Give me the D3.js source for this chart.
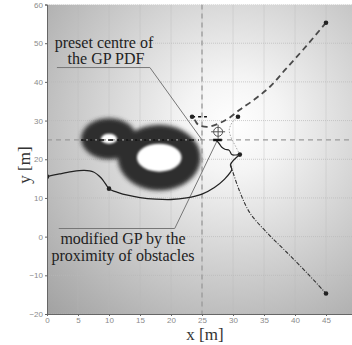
<!DOCTYPE html>
<html>
<head>
<meta charset="utf-8">
<script src="https://cdn.jsdelivr.net/npm/d3@7"></script>
<style>
    body { margin: 0; background: #fff; }
    .tick text { font-family: "Liberation Sans", Arial, sans-serif; font-size: 8px; fill: #8a8a8a; }
    .axis path, .axis line { stroke: #666; }
    .note { font-family: "Liberation Serif", "Times New Roman", serif; font-size: 16px; fill: #222; }
    .alabel { font-family: "Liberation Serif", "Times New Roman", serif; font-size: 17px; fill: #333; }
</style>
</head>
<body>
<script>
// tick values
var xTicks = [0, 5, 10, 15, 20, 25, 30, 35, 40, 45, 50];
var yTicks = [-20, -10, 0, 10, 20, 30, 40, 50, 60];

// obstacles: centre, core radius and proximity zone radii (data units)
var obsX = [10, 18.1],
    obsY = [25.3, 20.4],
    obsCore = [1.3, 3.6],
    obsZoneX = [4.5, 6.7],
    obsZoneY = [5.3, 8.5];

// preset GP centre and modified GP centre
var presetCentre = [25, 25];
var modifiedCentre = [27.6, 27.1];

// trajectories
var robotPath = [[0, 15.5], [2, 16.2], [4, 16.8], [6, 17.1], [7.5, 16.7],
    [8.7, 15.2], [9.5, 13.5], [10, 12.4], [11.5, 11.4], [13, 10.7],
    [15, 10.1], [17.5, 9.7], [20, 9.6], [22.5, 10], [25, 11],
    [27, 12.7], [28.6, 14.8], [29.8, 17.3], [29.6, 18.6], [31.1, 21.2]];
var robotDots = [[0, 15.5], [10, 12.4], [31.1, 21.2]];

var gpPath = [[45, 55.3], [41.3, 48.3], [38.5, 43.3], [36, 38.8], [33.5, 35.5],
    [31.1, 32.8], [29.3, 30.6], [27.9, 29.4], [26, 28.4], [24.4, 28.9],
    [23.9, 30], [23.7, 30.5]];
var gpDot = [45, 55.3];

var shortPath = [[23.4, 31], [25.8, 31]];
var shortDot = [23.4, 31];

var wigglePath = [[27.2, 25], [27.7, 24.2], [28.2, 23.1], [28.7, 22.6],
    [29.4, 22.3], [29.8, 21.2], [30.4, 21.1], [31.1, 21.2]];

var dottedPath = [[30.8, 31], [29.9, 29.6], [29.4, 27.6], [29.7, 25.6],
    [30.4, 23.4], [31.1, 21.2]];
var dottedDot = [30.8, 31];

var escapePath = [[29.6, 18.6], [31, 12], [32.7, 6.2], [35.5, 1],
    [38.7, -4.1], [42, -9.5], [45, -14.7]];
var escapeDot = [45, -14.7];

// annotation leader lines
var leader1 = [[1.6, 43.7], [16.6, 43.7], [25, 25]];
var leader2 = [[1.9, 2.1], [20.6, 2.1], [27.5, 25]];

var width = 352, height = 345;

var x = d3.scaleLinear().domain([0, 50]).range([47, 357]),
    y = d3.scaleLinear().domain([-20, 60]).range([314, 4.5]);

var svg = d3.select("body").append("svg")
    .attr("width", width)
    .attr("height", height);

var defs = svg.append("defs");

// background glow round the GP centre
var grad = defs.append("radialGradient")
    .attr("id", "bg")
    .attr("gradientUnits", "userSpaceOnUse")
    .attr("cx", x(30)).attr("cy", y(29))
    .attr("r", 275);
grad.append("stop").attr("offset", "0").attr("stop-color", "#ffffff");
grad.append("stop").attr("offset", "0.18").attr("stop-color", "#f4f4f4");
grad.append("stop").attr("offset", "0.5").attr("stop-color", "#d2d2d2");
grad.append("stop").attr("offset", "0.8").attr("stop-color", "#b2b2b2");
grad.append("stop").attr("offset", "1").attr("stop-color", "#9e9e9e");

defs.append("filter").attr("id", "blur")
    .attr("x", "-50%").attr("y", "-50%").attr("width", "200%").attr("height", "200%")
    .append("feGaussianBlur").attr("stdDeviation", 2.2);
defs.append("filter").attr("id", "blur2")
    .append("feGaussianBlur").attr("stdDeviation", 1);

defs.append("clipPath").attr("id", "clip")
    .append("rect")
    .attr("x", x(0)).attr("y", y(60))
    .attr("width", x(50) - x(0)).attr("height", y(-20) - y(60));

var plot = svg.append("g").attr("clip-path", "url(#clip)");

plot.append("rect")
    .attr("x", x(0)).attr("y", y(60))
    .attr("width", x(50) - x(0)).attr("height", y(-20) - y(60))
    .attr("fill", "url(#bg)");

// grid
plot.selectAll(".gx").data(xTicks).enter().append("line")
    .attr("x1", d => x(d)).attr("x2", d => x(d))
    .attr("y1", y(60)).attr("y2", y(-20))
    .attr("stroke", "#b8b8b8").attr("stroke-width", 0.7)
    .attr("stroke-dasharray", "1,1");
plot.selectAll(".gy").data(yTicks).enter().append("line")
    .attr("y1", d => y(d)).attr("y2", d => y(d))
    .attr("x1", x(0)).attr("x2", x(50))
    .attr("stroke", "#b8b8b8").attr("stroke-width", 0.7)
    .attr("stroke-dasharray", "1,1");

// obstacles: dark proximity zone then white core
var zones = plot.append("g").attr("filter", "url(#blur)");
obsX.forEach(function(ox, i) {
    zones.append("ellipse")
        .attr("cx", x(ox)).attr("cy", y(obsY[i]))
        .attr("rx", x(obsZoneX[i]) - x(0)).attr("ry", y(0) - y(obsZoneY[i]))
        .attr("fill", "#2e2e2e");
});
var cores = plot.append("g").attr("filter", "url(#blur2)");
obsX.forEach(function(ox, i) {
    cores.append("ellipse")
        .attr("cx", x(ox)).attr("cy", y(obsY[i]))
        .attr("rx", x(obsCore[i]) - x(0)).attr("ry", y(0) - y(obsCore[i]))
        .attr("fill", "#ffffff");
});

// preset centre dashed cross
plot.append("line")
    .attr("x1", x(0)).attr("x2", x(50))
    .attr("y1", y(presetCentre[1])).attr("y2", y(presetCentre[1]))
    .attr("stroke", "#9a9a9a").attr("stroke-width", 1.3)
    .attr("stroke-dasharray", "5,4");
plot.append("line")
    .attr("x1", x(5.5)).attr("x2", x(24.5))
    .attr("y1", y(presetCentre[1])).attr("y2", y(presetCentre[1]))
    .attr("stroke", "#111").attr("stroke-width", 1.5)
    .attr("stroke-dasharray", "5,4");
plot.append("line")
    .attr("x1", x(presetCentre[0])).attr("x2", x(presetCentre[0]))
    .attr("y1", y(60)).attr("y2", y(-20))
    .attr("stroke", "#9a9a9a").attr("stroke-width", 1.3)
    .attr("stroke-dasharray", "5,4");

var line = d3.line().x(d => x(d[0])).y(d => y(d[1])).curve(d3.curveCatmullRom);

// leader lines of the notes
[leader1, leader2].forEach(function(pts) {
    plot.append("path")
        .attr("d", d3.line().x(d => x(d[0])).y(d => y(d[1]))(pts))
        .attr("fill", "none").attr("stroke", "#777").attr("stroke-width", 1);
});

// trajectories
plot.append("path").attr("d", line(gpPath))
    .attr("fill", "none").attr("stroke", "#4a4a4a").attr("stroke-width", 1.8)
    .attr("stroke-dasharray", "6,4");
plot.append("path").attr("d", line(shortPath))
    .attr("fill", "none").attr("stroke", "#111").attr("stroke-width", 1.5)
    .attr("stroke-dasharray", "3,3");
plot.append("path").attr("d", line(dottedPath))
    .attr("fill", "none").attr("stroke", "#a8a8a8").attr("stroke-width", 1)
    .attr("stroke-dasharray", "1.5,1.5");
plot.append("path").attr("d", line(robotPath))
    .attr("fill", "none").attr("stroke", "#222").attr("stroke-width", 1.3);
plot.append("path").attr("d", line(wigglePath))
    .attr("fill", "none").attr("stroke", "#222").attr("stroke-width", 1.2);
plot.append("path").attr("d", line(escapePath))
    .attr("fill", "none").attr("stroke", "#333").attr("stroke-width", 1.1)
    .attr("stroke-dasharray", "4,1.5,1,1.5");

// modified GP marker
plot.append("line")
    .attr("x1", x(modifiedCentre[0] - 0.8)).attr("x2", x(modifiedCentre[0] + 0.6))
    .attr("y1", y(25)).attr("y2", y(25))
    .attr("stroke", "#111").attr("stroke-width", 2.5);
plot.append("circle")
    .attr("cx", x(modifiedCentre[0])).attr("cy", y(modifiedCentre[1]))
    .attr("r", 4.5).attr("fill", "none").attr("stroke", "#555").attr("stroke-width", 1);
plot.append("line")
    .attr("x1", x(modifiedCentre[0]) - 7).attr("x2", x(modifiedCentre[0]) + 7)
    .attr("y1", y(modifiedCentre[1])).attr("y2", y(modifiedCentre[1]))
    .attr("stroke", "#555").attr("stroke-width", 1);
plot.append("line")
    .attr("x1", x(modifiedCentre[0])).attr("x2", x(modifiedCentre[0]))
    .attr("y1", y(modifiedCentre[1]) - 7).attr("y2", y(modifiedCentre[1]) + 7)
    .attr("stroke", "#555").attr("stroke-width", 1);

// end points
var dots = robotDots.concat([gpDot, shortDot, dottedDot, escapeDot]);
plot.selectAll(".dot").data(dots).enter().append("circle")
    .attr("cx", d => x(d[0])).attr("cy", d => y(d[1]))
    .attr("r", 2.3).attr("fill", "#222");

// axes
svg.append("g")
    .attr("class", "axis")
    .attr("transform", "translate(0," + y(-20) + ")")
    .call(d3.axisBottom(x).tickValues(xTicks).tickSize(2).tickPadding(1));
svg.append("g")
    .attr("class", "axis")
    .attr("transform", "translate(" + x(0) + ",0)")
    .call(d3.axisLeft(y).tickValues(yTicks).tickSize(2).tickPadding(2));

// notes
svg.append("text").attr("class", "note")
    .attr("x", 104).attr("y", 48).attr("text-anchor", "middle")
    .text("preset centre of");
svg.append("text").attr("class", "note")
    .attr("x", 106).attr("y", 64).attr("text-anchor", "middle")
    .text("the GP PDF");
svg.append("text").attr("class", "note")
    .attr("x", 123).attr("y", 244).attr("text-anchor", "middle")
    .text("modified GP by the");
svg.append("text").attr("class", "note")
    .attr("x", 123).attr("y", 261).attr("text-anchor", "middle")
    .text("proximity of obstacles");

// axis labels
svg.append("text").attr("class", "alabel")
    .attr("x", 205).attr("y", 340).attr("text-anchor", "middle")
    .text("x [m]");
svg.append("text").attr("class", "alabel")
    .attr("transform", "translate(30," + 165 + ") rotate(-90)")
    .attr("text-anchor", "middle")
    .text("y [m]");
</script>
</body>
</html>
